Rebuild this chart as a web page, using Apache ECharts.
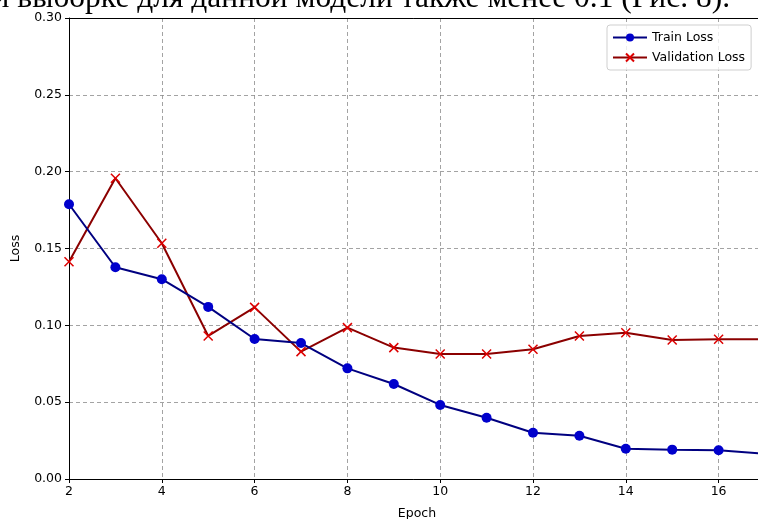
<!DOCTYPE html>
<html>
<head>
<meta charset="utf-8">
<script src="https://cdn.jsdelivr.net/npm/echarts@6/dist/echarts.min.js"></script>
<style>
  html, body { margin: 0; padding: 0; background: #fff; }
  #chart { width: 758px; height: 519px; }
</style>
</head>
<body>
<div id="chart"></div>
<script>
// Loss per training epoch
const epochs = [2, 3, 4, 5, 6, 7, 8, 9, 10, 11, 12, 13, 14, 15, 16, 17];
const trainLoss = [0.1788, 0.1378, 0.1300, 0.1120, 0.0911, 0.0885, 0.0720, 0.0618, 0.0482, 0.0399, 0.0301, 0.0282, 0.0197, 0.0191, 0.0187, 0.0164];
const valLoss = [0.1414, 0.1957, 0.1534, 0.0931, 0.1117, 0.0829, 0.0985, 0.0855, 0.0813, 0.0813, 0.0844, 0.0931, 0.0952, 0.0905, 0.0909, 0.0909];
const yTicks = [0, 0.05, 0.10, 0.15, 0.20, 0.25, 0.30];
const captionLine = 'й выборке для данной модели также менее 0.1 (Рис. 8).';

const pair = (xs, ys) => xs.map((x, i) => [x, ys[i]]);
const crossPath = 'path://M0,0L10,10M10,0L0,10';
const tickFont = { fontFamily: 'DejaVu Sans', fontSize: 12.5, color: '#000' };
const dashed = { show: true, lineStyle: { color: '#8c8c8c', type: [4, 3], width: 0.8 } };

const chart = echarts.init(document.getElementById('chart'), null, { renderer: 'canvas' });
chart.setOption({
  animation: false,
  backgroundColor: '#fff',
  grid: {
    left: 69, top: 18, width: 696, height: 461,
    outerBoundsMode: 'none', containLabel: false, show: false
  },
  graphic: [{
    type: 'text', right: 28, top: -17,
    style: {
      text: captionLine,
      font: '31.5px "Liberation Serif"',
      fill: '#000'
    }
  }],
  legend: {
    left: 607, top: 25,
    orient: 'vertical',
    itemWidth: 34, itemHeight: 10, itemGap: 7,
    padding: [6, 6, 6, 5],
    borderColor: '#cfcfcf', borderWidth: 1, borderRadius: 3,
    backgroundColor: 'rgba(255,255,255,0.8)',
    textStyle: { fontFamily: 'DejaVu Sans', fontSize: 12.5, color: '#000' },
    data: ['Train Loss', 'Validation Loss']
  },
  xAxis: [{
    type: 'value', min: 2, max: 17, interval: 2,
    name: 'Epoch', nameLocation: 'middle', nameGap: 28,
    nameTextStyle: { fontFamily: 'DejaVu Sans', fontSize: 12.5, color: '#000' },
    axisLine: { show: true, lineStyle: { color: '#000', width: 1 } },
    axisTick: { show: true, length: 4, lineStyle: { color: '#000' } },
    axisLabel: Object.assign({ margin: 6, showMaxLabel: false }, tickFont),
    splitLine: dashed
  }, {
    // top frame edge
    type: 'value', position: 'top', min: 2, max: 17, interval: 2,
    axisLine: { show: true, onZero: false, lineStyle: { color: '#000', width: 1 } },
    axisTick: { show: false }, axisLabel: { show: false }, splitLine: { show: false }
  }],
  yAxis: {
    type: 'value', min: yTicks[0], max: yTicks[yTicks.length - 1], interval: 0.05,
    name: 'Loss', nameLocation: 'middle', nameGap: 47, nameRotate: 90,
    nameTextStyle: { fontFamily: 'DejaVu Sans', fontSize: 12.5, color: '#000' },
    axisLine: { show: true, lineStyle: { color: '#000', width: 1 } },
    axisTick: { show: true, length: 4, lineStyle: { color: '#000' } },
    axisLabel: Object.assign({ margin: 7, formatter: v => v.toFixed(2) }, tickFont),
    splitLine: dashed
  },
  series: [
    {
      name: 'Train Loss', type: 'line', data: pair(epochs, trainLoss),
      symbol: 'circle', symbolSize: 10, showAllSymbol: true,
      lineStyle: { color: '#000080', width: 2 },
      itemStyle: { color: '#0000cc', borderWidth: 0 },
      z: 3
    },
    {
      name: 'Validation Loss', type: 'line', data: pair(epochs, valLoss),
      symbol: crossPath, symbolSize: 9, showAllSymbol: true,
      lineStyle: { color: '#8b0000', width: 2 },
      itemStyle: { color: '#cc0000', borderColor: '#dd0000', borderWidth: 1.5 },
      z: 2
    }
  ]
});
</script>
</body>
</html>
